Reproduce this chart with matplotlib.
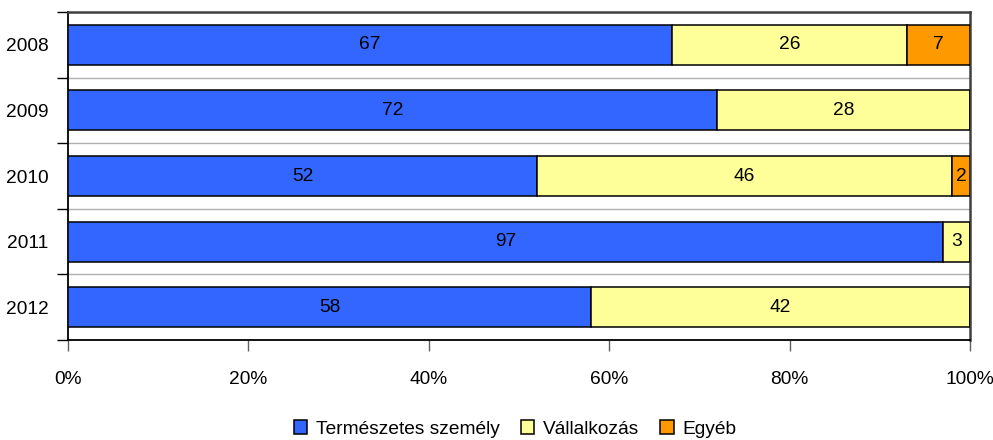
import matplotlib
matplotlib.use("Agg")
import matplotlib.pyplot as plt
from matplotlib.patches import Patch
from matplotlib.ticker import FixedLocator, FuncFormatter

plt.rcParams['font.family'] = ['Liberation Sans', 'DejaVu Sans']

years = ['2008', '2009', '2010', '2011', '2012']
termeszetes = [67, 72, 52, 97, 58]
vallalkozas = [26, 28, 46, 3, 42]
egyeb = [7, 0, 2, 0, 0]
series_names = ['Természetes személy', 'Vállalkozás', 'Egyéb']
colors = ['#3366FF', '#FFFF99', '#FF9900']
x_ticks = [0, 20, 40, 60, 80, 100]

FS = 13.8
fig = plt.figure(figsize=(9.93, 4.40), dpi=100)
ax = fig.add_axes([68/993, 1-340/440, (970-68)/993, (340-12)/440])

ypos = list(range(len(years)))
left = [0]*len(years)
for vals, col in zip([termeszetes, vallalkozas, egyeb], colors):
    bars = ax.barh(ypos, vals, left=left, height=0.61, color=col,
                   edgecolor='black', linewidth=1.1, zorder=3)
    for b, v, l in zip(bars, vals, left):
        if v > 0:
            ax.text(l + v/2, b.get_y() + b.get_height()/2, str(v),
                    ha='center', va='center', fontsize=FS, zorder=4)
    left = [a + b for a, b in zip(left, vals)]

ax.set_xlim(0, 100)
ax.set_ylim(len(years)-0.5, -0.5)
ax.set_yticks(ypos)
ax.set_yticklabels(years, fontsize=FS)
ax.yaxis.set_minor_locator(FixedLocator([i - 0.5 for i in range(len(years)+1)]))
ax.tick_params(axis='y', which='major', length=0, pad=14)
ax.tick_params(axis='y', which='minor', length=8, width=1, color='black')
ax.grid(axis='y', which='minor', color='#B0B0B0', linewidth=1.0, zorder=0)

ax.set_xticks(x_ticks)
ax.xaxis.set_major_formatter(FuncFormatter(lambda v, p: f"{int(v)}%"))
ax.tick_params(axis='x', which='major', length=8, width=1, color='#606060',
               labelsize=FS, pad=14)

for s in ['left', 'bottom']:
    ax.spines[s].set_color('black')
    ax.spines[s].set_linewidth(1.3)
for s in ['top', 'right']:
    ax.spines[s].set_color('#404040')
    ax.spines[s].set_linewidth(1.8)

handles = [Patch(facecolor=c, edgecolor='black', linewidth=1.1) for c in colors]
fig.legend(handles, series_names, loc='center', bbox_to_anchor=(515/993, 1-429/440),
           ncol=3, frameon=False, fontsize=FS, handlelength=0.7, handleheight=0.7,
           handletextpad=0.45, columnspacing=1.1, borderpad=0)

fig.savefig('out.png', dpi=100)
